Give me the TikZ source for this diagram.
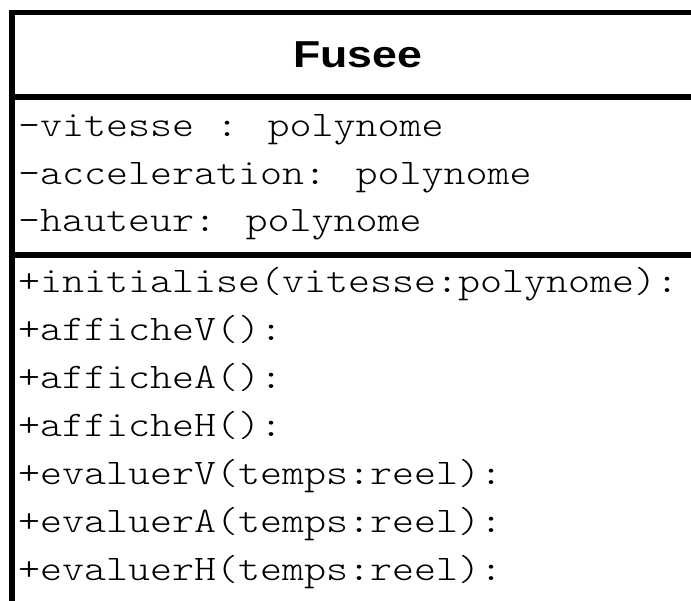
\documentclass[tikz,border=0pt]{standalone}
\usepackage{fontspec}
\usepackage{graphicx}
\newfontfamily\umltitle{Liberation Sans}
\newfontfamily\umlmono{lmmonolt10-regular.otf}
\newcommand{\wideT}[1]{\scalebox{1.19}[1]{#1}}
\newcommand{\wideM}[1]{\scalebox{1.164}[1]{#1}}
\tikzset{
  frameline/.style={line width=5.5pt, line cap=butt, line join=miter},
  titletext/.style={inner sep=0pt, anchor=base, font=\umltitle\bfseries\fontsize{37.5}{40}\selectfont},
  membertext/.style={inner sep=0pt, anchor=base west, font=\umlmono\fontsize{36}{40}\selectfont},
}
\begin{document}
\begin{tikzpicture}[x=1pt,y=-1pt]
\useasboundingbox (0,0) rectangle (691,601);
\clip (0,0) rectangle (691,601);
% frame
\coordinate (bl) at (12,640);
\coordinate (tl) at (12,12.5);
\coordinate (tr) at (720,12.5);
\coordinate (d1l) at (12,97);
\coordinate (d1r) at (720,97);
\coordinate (d2l) at (12,255);
\coordinate (d2r) at (720,255);
\draw[frameline] (bl) -- (tl) -- (tr);
\draw[frameline] (d1l) -- (d1r);
\draw[frameline] (d2l) -- (d2r);
% title
\node[titletext] (title) at (357.5,67.7) {\wideT{Fusee}};
% attributes
\node[membertext] (a1) at (18,136.7) {\wideM{-vitesse : polynome}};
\node[membertext] (a2) at (18,184.2) {\wideM{-acceleration: polynome}};
\node[membertext] (a3) at (18,231.7) {\wideM{-hauteur: polynome}};
% methods
\node[membertext] (m1) at (18,292.3) {\wideM{+initialise(vitesse:polynome):}};
\node[membertext] (m2) at (18,340.3) {\wideM{+afficheV():}};
\node[membertext] (m3) at (18,388.3) {\wideM{+afficheA():}};
\node[membertext] (m4) at (18,436.3) {\wideM{+afficheH():}};
\node[membertext] (m5) at (18,484.3) {\wideM{+evaluerV(temps:reel):}};
\node[membertext] (m6) at (18,532.3) {\wideM{+evaluerA(temps:reel):}};
\node[membertext] (m7) at (18,580.3) {\wideM{+evaluerH(temps:reel):}};
\end{tikzpicture}
\end{document}
